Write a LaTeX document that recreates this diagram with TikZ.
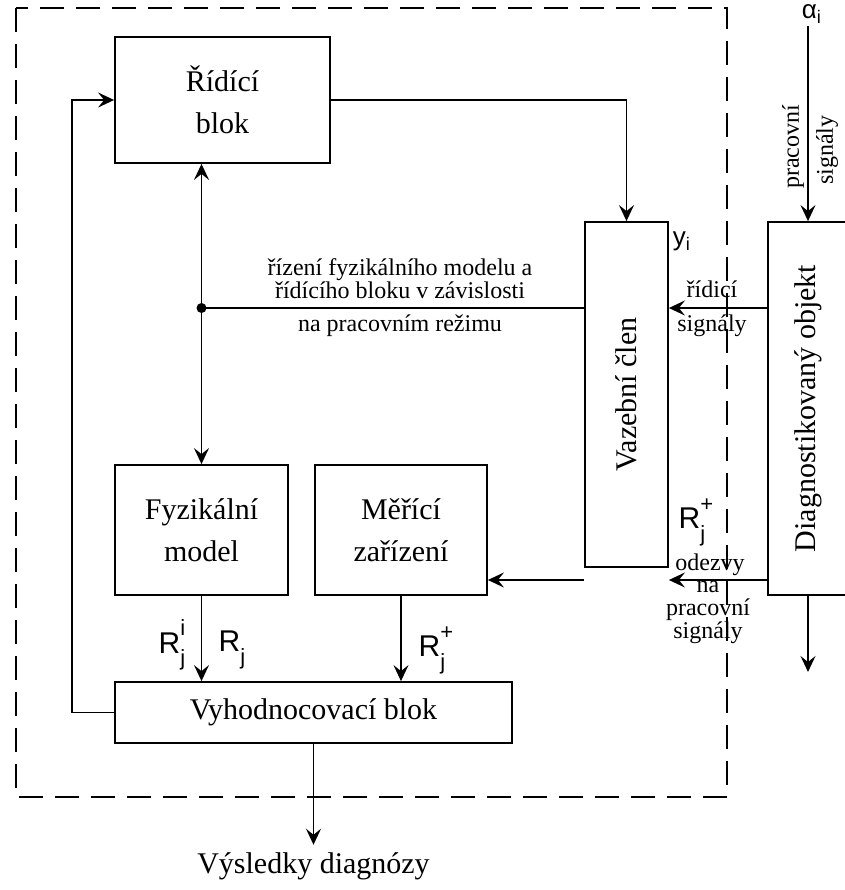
\documentclass[tikz,border=0pt]{standalone}
\usepackage{fontspec}
\setmainfont{Liberation Serif}
\newfontfamily\bezpatkove{Liberation Sans}
\usetikzlibrary{arrows.meta}
\newcommand{\velke}{\fontsize{15}{21}\selectfont}
\newcommand{\male}{\fontsize{12}{11.5}\selectfont}
\newcommand{\Rznak}[1]{{\bezpatkove\fontsize{15}{18}\selectfont R\rlap{\raisebox{1.1ex}{\fontsize{11}{11}\selectfont #1}}\raisebox{-0.8ex}{\fontsize{11}{11}\selectfont j}}}

\begin{document}
\begin{tikzpicture}[x=0.5pt,y=-0.5pt,line width=0.9pt,>={Stealth[length=8pt,width=7.5pt,inset=3pt]},
	blok/.style={draw,inner sep=0pt,align=center,font=\velke},
	popis/.style={inner sep=1pt,align=center,font=\male},
	znak/.style={inner sep=1pt,font=\bezpatkove\fontsize{13}{15}\selectfont}]
	\clip (0,0) rectangle (845,890);
	
	% hranice diagnostickeho systemu
	\draw[dash pattern=on 12pt off 6pt,line width=0.6pt] (16,8) rectangle (727,797);
	
	% bloky
	\node (rizeni) at (222.5,100)[blok,minimum width=107.5pt,minimum height=63pt]{Řídící\\blok};
	\node (vazba) at (626.5,394.5)[blok,minimum width=41.5pt,minimum height=172.5pt]{\rotatebox{90}{Vazební člen}};
	\node (objekt) at (808,408.5)[blok,minimum width=40pt,minimum height=186.5pt]{\rotatebox{90}{Diagnostikovaný objekt}};
	\node (model) at (201.5,530)[blok,minimum width=86.5pt,minimum height=65pt]{Fyzikální\\model};
	\node (mereni) at (401,530)[blok,minimum width=86pt,minimum height=65pt]{Měřící\\zařízení};
	\node (vyhod) at (313.5,712.5)[blok,minimum width=198.5pt,minimum height=30.5pt]{Vyhodnocovací blok};
	
	\coordinate (uzel) at (201.5,308);
	\coordinate (odezvy) at (700,580);
	
	% spoje
	\draw[->] (rizeni.east) -| (vazba.north);
	\draw[<->] (model.north |- rizeni.south) -- (model.north);
	\draw (vazba.west |- uzel) -- (uzel);
	\fill (uzel) circle (5);
	\draw[->] (objekt.west |- uzel) -- (vazba.east |- uzel);
	\draw[->] (objekt.west |- odezvy) -- (vazba.east |- odezvy);
	\draw[->] (vazba.west |- odezvy) -- (mereni.east |- odezvy);
	\draw[->] (model.south) -- (model.south |- vyhod.north);
	\draw[->] (mereni.south) -- (mereni.south |- vyhod.north);
	\draw[->] (vyhod.west) -- ++(-42,0) |- (rizeni.west);
	
	\node (vysledky) at (313.5,866)[font=\velke]{Výsledky diagnózy};
	\draw[->] (vyhod.south) -- (vysledky.north);
	
	\node (alfa) at (812,14)[znak]{α\textsubscript{i}};
	\draw[->] (alfa.south -| objekt.north) -- (objekt.north);
	\coordinate (konec) at (808,672);
	\draw[->] (objekt.south) -- (konec);
	
	% popisy
	\node at (793,147)[popis,rotate=90]{pracovní};
	\node at (827,150)[popis,rotate=90]{signály};
	\node at (400,279)[popis]{řízení fyzikálního modelu a\\řídícího bloku v závislosti};
	\node at (400,326)[popis]{na pracovním režimu};
	\node at (712,289)[popis]{řídicí};
	\node at (712,326)[popis]{signály};
	\node at (710,565)[popis]{odezvy};
	\node at (708,612)[popis]{na\\pracovní\\signály};
	\node at (682,241)[znak]{y\textsubscript{i}};
	\node at (692,522)[inner sep=0pt]{\Rznak{+}};
	\node at (172,645)[inner sep=0pt]{\Rznak{i}};
	\node at (232,650)[inner sep=0pt]{\Rznak{}};
	\node at (432,650)[inner sep=0pt]{\Rznak{+}};
\end{tikzpicture}
\end{document}
